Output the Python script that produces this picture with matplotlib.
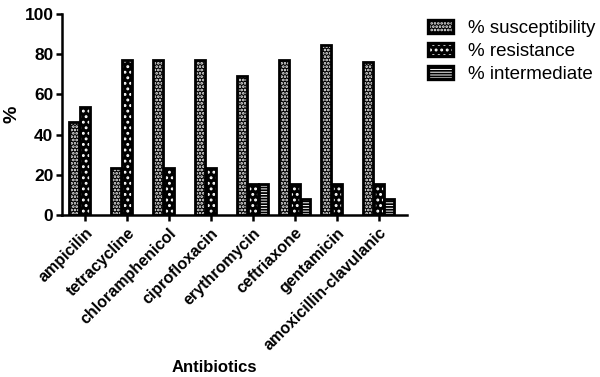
import numpy as np
import matplotlib.pyplot as plt

plt.rcParams['font.family'] = ['Liberation Sans', 'DejaVu Sans']
plt.rcParams['hatch.linewidth'] = 1.3

# données
antibiotics = ["ampicilin", "tetracycline", "chloramphenicol", "ciprofloxacin",
               "erythromycin", "ceftriaxone", "gentamicin", "amoxicillin-clavulanic"]
susceptibility = [46.2, 23.1, 76.9, 76.9, 69.2, 76.9, 84.6, 76.2]
resistance = [53.8, 76.9, 23.1, 23.1, 15.4, 15.4, 15.4, 15.4]
intermediate = [0, 0, 0, 0, 15.4, 7.7, 0, 7.7]

fig = plt.figure(figsize=(6, 3.77), dpi=100)
ax = fig.add_axes([0.103, 0.43, 0.575, 0.533])

x = np.arange(len(antibiotics))
w = 0.235
off = 0.255

series = [
    (susceptibility, -off, "black", "white", ".....", "% susceptibility"),
    (resistance, 0, "black", "white", "...", "% resistance"),
    (intermediate, off, "white", "black", "------", "% intermediate"),
]
handles = []
for vals, dx, fc, hc, hatch, lab in series:
    vals = np.array(vals)
    # on ne dessine pas les barres à 0
    m = vals > 0
    ax.bar(x[m] + dx, vals[m], w, color=fc, edgecolor=hc, hatch=hatch, linewidth=0)
    ax.bar(x[m] + dx, vals[m], w, color="none", edgecolor="black", linewidth=2)
    h1 = plt.Rectangle((0, 0), 1, 1, facecolor=fc, edgecolor=hc, hatch=hatch, linewidth=0)
    h2 = plt.Rectangle((0, 0), 1, 1, facecolor="none", edgecolor="black", linewidth=2.4)
    handles.append((h1, h2))

ax.set_xlim(-0.55, 7.67)
ax.set_ylim(0, 100)
ax.set_yticks([0, 20, 40, 60, 80, 100])
ax.set_xticks(x)
ax.set_xticklabels(antibiotics, rotation=45, ha="right", rotation_mode="anchor",
                   fontsize=11.5, fontweight="bold")
for t in ax.get_yticklabels():
    t.set_fontsize(12.5)
    t.set_fontweight("bold")

for s in ["top", "right"]:
    ax.spines[s].set_visible(False)
for s in ["left", "bottom"]:
    ax.spines[s].set_linewidth(1.8)
ax.tick_params(width=1.8, length=4, direction="out")
ax.tick_params(axis="y", pad=2)

ax.set_ylabel("%", fontsize=14, fontweight="bold")
ax.yaxis.set_label_coords(-0.12, 0.5)
fig.text(0.358, 0.012, "Antibiotics", fontsize=12, fontweight="bold", ha="center")

leg = fig.legend(handles, [s[5] for s in series], loc="upper left",
                 bbox_to_anchor=(0.713, 0.947), frameon=False, fontsize=13.5,
                 borderpad=0, borderaxespad=0,
                 handlelength=1.35, handleheight=0.7, labelspacing=0.32, handletextpad=0.8)

fig.savefig("out.png", dpi=100)
